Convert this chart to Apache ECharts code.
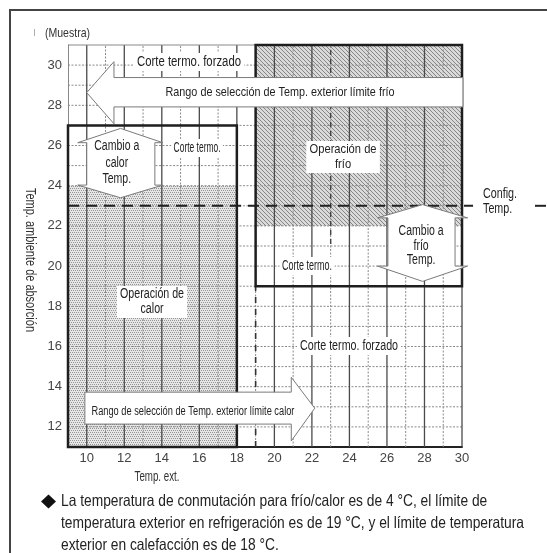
<!DOCTYPE html>
<html><head><meta charset="utf-8">
<script src="https://cdn.jsdelivr.net/npm/echarts@6/dist/echarts.min.js"></script>
<style>html,body{margin:0;padding:0;background:#fff}#c{width:547px;height:553px}</style>
</head><body><div id="c"></div>
<script>
// ---- data ----
const xTickLabels = [10, 12, 14, 16, 18, 20, 22, 24, 26, 28, 30];
const yTickLabels = [12, 14, 16, 18, 20, 22, 24, 26, 28, 30];
const xRange = [9, 30];
const yRange = [11, 31];
const hGrid = [12, 13, 14, 15, 16, 17, 18, 19, 20, 21, 22, 23, 24, 25, 26, 27, 28, 29, 30];
const vMajor = [10, 12, 14, 16, 18, 20, 22, 24, 26, 28, 30];
const vMinor = [11, 13, 15, 17, 19, 21, 23, 25, 27, 29];
const heatZone = [9, 18, 11, 27];      // x0, x1, y0, y1
const heatFill = [9, 18, 11, 24];
const coldZone = [19, 30, 19, 31];
const coldFill = [19, 30, 22, 31];
const configTemp = 23;
const coolingLimit = 19;
const coldSelectArrow = [[10, 28.63], [11.45, 30.17], [11.45, 29.38], [30.05, 29.38], [30.05, 27.92], [11.45, 27.92], [11.45, 27.08]];
const heatSelectArrow = [[9.9, 13.73], [20.9, 13.73], [20.9, 14.47], [22.15, 12.93], [20.9, 11.3], [20.9, 12.14], [9.9, 12.14]];
const toHeatSwitch = [[11.8, 26.85], [14.05, 26.14], [13.63, 26.14], [13.63, 24.03], [14.05, 24.03], [11.8, 23.4], [9.52, 24.03], [10.0, 24.03], [10.0, 26.14], [9.52, 26.14]];
const toColdSwitch = [[27.9, 23.06], [30.3, 22.4], [29.63, 22.4], [29.63, 20.0], [30.3, 20.0], [27.9, 19.24], [25.5, 20.0], [26.05, 20.0], [26.05, 22.4], [25.5, 22.4]];
const zoneTexts = ['Corte termo. forzado', 'Rango de selección de Temp. exterior límite frío', 'Cambio a\ncalor\nTemp.', 'Corte termo.', 'Operación de\nfrío', 'Corte termo.', 'Cambio a\nfrío\nTemp.', 'Operación de\ncalor', 'Corte termo. forzado', 'Rango de selección de Temp. exterior límite calor', 'Config.\nTemp.'];
const footerLines = ['La temperatura de conmutación para frío/calor es de 4 °C, el límite de', 'temperatura exterior en refrigeración es de 19 °C, y el límite de temperatura', 'exterior en calefacción es de 18 °C.'];

// ---- layout / style ----
const FONT = "'Liberation Sans',Arial,sans-serif";
const textLayout = [
  { at: [15.45, 30.15], size: 14, w: 104, bg: '#fff' },
  { at: [20.3, 28.66], size: 13.5, w: 229 },
  { at: [11.6, 25.13], size: 14, w: 45, lh: 16.5 },
  { at: [15.88, 25.88], size: 14, w: 47, bg: '#fff' },
  { at: [23.66, 25.43], size: 13.5, w: 67, lh: 15, bg: '#fff' },
  { at: [21.74, 20.0], size: 14, w: 50, bg: '#fff' },
  { at: [27.82, 21.0], size: 14, w: 45, lh: 14.5 },
  { at: [13.48, 18.21], size: 14, w: 64, lh: 15, bg: '#fff' },
  { at: [23.98, 16.02], size: 14, w: 98, bg: '#fff' },
  { at: [15.66, 12.74], size: 12.5, w: 203 },
  { at: [31.12, 23.19], size: 14, w: 34, lh: 15, align: 'left' }
];
const configGap = [30.59, 33.89, 34.53]; // dashed line stops at label and resumes to page edge

const mctx = document.createElement('canvas').getContext('2d');
function fitScale(text, size, w) {
  mctx.font = size + 'px ' + FONT;
  const m = Math.max.apply(null, text.split('\n').map(s => mctx.measureText(s).width));
  return w / m;
}

function stipple() {
  const c = document.createElement('canvas'); c.width = 4; c.height = 4;
  const g = c.getContext('2d');
  g.fillStyle = '#e6e6e6'; g.fillRect(0, 0, 4, 4);
  g.fillStyle = '#959595';
  g.fillRect(0, 0, 1, 1); g.fillRect(2, 0, 1, 1); g.fillRect(1, 2, 1, 1); g.fillRect(3, 2, 1, 1);
  return c;
}
function hatch() {
  const c = document.createElement('canvas'); c.width = 4; c.height = 4;
  const g = c.getContext('2d');
  g.fillStyle = '#dadada'; g.fillRect(0, 0, 4, 4);
  g.fillStyle = '#858585';
  for (let i = 0; i < 4; i++) g.fillRect(i, i, 1, 1);
  return c;
}
const stipplePat = { image: stipple(), repeat: 'repeat' };
const hatchPat = { image: hatch(), repeat: 'repeat' };

function rectOf(api, z) {
  const a = api.coord([z[0], z[3]]), b = api.coord([z[1], z[2]]);
  return { x: a[0], y: a[1], width: b[0] - a[0], height: b[1] - a[1] };
}
function line(api, p, q, style) {
  const a = api.coord(p), b = api.coord(q);
  return { type: 'line', shape: { x1: a[0], y1: a[1], x2: b[0], y2: b[1] }, style: style, silent: true };
}
function gText(text, x, y, size, w, extra) {
  extra = extra || {};
  return { type: 'text', x: x, y: y, scaleX: fitScale(text, size, w), rotation: extra.rotation || 0, silent: true,
    style: { text: text, x: 0, y: 0, align: extra.align || 'left', verticalAlign: 'middle', fill: extra.fill || '#222', font: size + 'px ' + FONT } };
}

const chart = echarts.init(document.getElementById('c'));
const footerScale = fitScale(footerLines[1], 16.5, 463);
const option = {
  animation: false,
  backgroundColor: '#fff',
  grid: { left: 68, right: 85, top: 45, bottom: 106 },
  xAxis: {
    type: 'value', min: xRange[0], max: xRange[1], interval: 1,
    axisLine: { show: true, lineStyle: { color: '#222', width: 2 } },
    axisTick: { show: false }, splitLine: { show: false },
    axisLabel: { margin: 5, color: '#444', fontFamily: FONT, fontSize: 13,
      formatter: v => xTickLabels.includes(v) ? String(v) : '', showMinLabel: true, showMaxLabel: true }
  },
  yAxis: {
    type: 'value', min: yRange[0], max: yRange[1], interval: 1,
    axisLine: { show: true, lineStyle: { color: '#888', width: 1 } },
    axisTick: { show: false }, splitLine: { show: false },
    axisLabel: { margin: 6, color: '#444', fontFamily: FONT, fontSize: 13,
      formatter: v => yTickLabels.includes(v) ? String(v) : '' }
  },
  series: [
    { // zone fills
      type: 'custom', z: 1, data: [0, 1],
      renderItem: (p, api) => ({ type: 'rect', shape: rectOf(api, [heatFill, coldFill][p.dataIndex]),
        style: { fill: p.dataIndex === 0 ? stipplePat : hatchPat, stroke: null }, silent: true })
    },
    { // grid lines
      type: 'custom', z: 2, data: [0],
      renderItem: (p, api) => {
        const ch = [];
        const dot = { stroke: '#8a8a8a', lineWidth: 1, lineDash: [2, 1.5] };
        hGrid.forEach(y => ch.push(line(api, [xRange[0], y], [xRange[1], y], dot)));
        vMinor.forEach(x => ch.push(line(api, [x, yRange[0]], [x, yRange[1]], dot)));
        vMajor.forEach(x => ch.push(line(api, [x, yRange[0]], [x, yRange[1]], { stroke: '#4a4a4a', lineWidth: 1.3 })));
        ch.push(line(api, [xRange[0], yRange[1]], [xRange[1], yRange[1]], { stroke: '#888', lineWidth: 1 }));
        return { type: 'group', children: ch };
      }
    },
    { // limit lines
      type: 'custom', z: 3, data: [0],
      renderItem: (p, api) => {
        const ch = [];
        ch.push(line(api, [coolingLimit, yRange[0]], [coolingLimit, coldZone[2]], { stroke: '#333', lineWidth: 1.6, lineDash: [6, 6] }));
        ch.push(line(api, [23, 21.1], [23, yRange[1]], { stroke: '#444', lineWidth: 1.4, lineDash: [5, 4] }));
        const ds = { stroke: '#222', lineWidth: 2, lineDash: [11, 7] };
        ch.push(line(api, [xRange[0], configTemp], [configGap[0], configTemp], ds));
        ch.push(line(api, [configGap[1], configTemp], [configGap[2], configTemp], ds));
        return { type: 'group', children: ch };
      }
    },
    { // zone borders
      type: 'custom', z: 4, data: [0, 1],
      renderItem: (p, api) => ({ type: 'rect', shape: rectOf(api, [heatZone, coldZone][p.dataIndex]),
        style: { fill: null, stroke: '#1e1e1e', lineWidth: 2.5 }, silent: true })
    },
    { // arrows
      type: 'custom', z: 5, data: [0, 1, 2, 3],
      renderItem: (p, api) => {
        const pts = [coldSelectArrow, heatSelectArrow, toHeatSwitch, toColdSwitch][p.dataIndex].map(q => api.coord(q));
        return { type: 'polygon', shape: { points: pts }, style: { fill: '#fff', stroke: '#7a7a7a', lineWidth: 1 }, silent: true };
      }
    },
    { // texts
      type: 'custom', z: 6, data: zoneTexts.map((t, i) => i),
      renderItem: (p, api) => {
        const L = textLayout[p.dataIndex];
        const c = api.coord(L.at);
        const t = zoneTexts[p.dataIndex];
        return { type: 'text', silent: true, x: c[0], y: c[1], scaleX: fitScale(t, L.size, L.w), style: {
          text: t, x: 0, y: 0, align: L.align || 'center', verticalAlign: 'middle',
          fill: '#222', font: L.size + 'px ' + FONT, lineHeight: L.lh || L.size + 2,
          backgroundColor: L.bg || null, padding: L.bg ? [1, 4] : 0 } };
      }
    }
  ],
  graphic: [
    { type: 'polyline', shape: { points: [[10, 553], [10, 10], [547, 10]] }, style: { stroke: '#444', lineWidth: 2, fill: null }, silent: true },
    gText('ı', 33, 33, 12, 3, { fill: '#aaa' }),
    gText('(Muestra)', 45, 33, 13, 45, { fill: '#333' }),
    gText('Temp. ambiente de absorción', 30, 260, 14, 144, { rotation: -Math.PI / 2, align: 'center', fill: '#333' }),
    gText('Temp. ext.', 157, 477, 14, 45, { align: 'center', fill: '#333' }),
    { type: 'polygon', silent: true, shape: { points: [[48.5, 494.5], [56, 501.5], [48.5, 508.5], [41, 501.5]] }, style: { fill: '#111', stroke: null } },
    { type: 'text', silent: true, x: 61, y: 501, scaleX: footerScale, style: { text: footerLines[0], x: 0, y: 0, verticalAlign: 'middle', fill: '#222', font: '16.5px ' + FONT } },
    { type: 'text', silent: true, x: 61, y: 523, scaleX: footerScale, style: { text: footerLines[1], x: 0, y: 0, verticalAlign: 'middle', fill: '#222', font: '16.5px ' + FONT } },
    { type: 'text', silent: true, x: 61, y: 545, scaleX: footerScale, style: { text: footerLines[2], x: 0, y: 0, verticalAlign: 'middle', fill: '#222', font: '16.5px ' + FONT } }
  ]
};
chart.setOption(option);
</script></body></html>
